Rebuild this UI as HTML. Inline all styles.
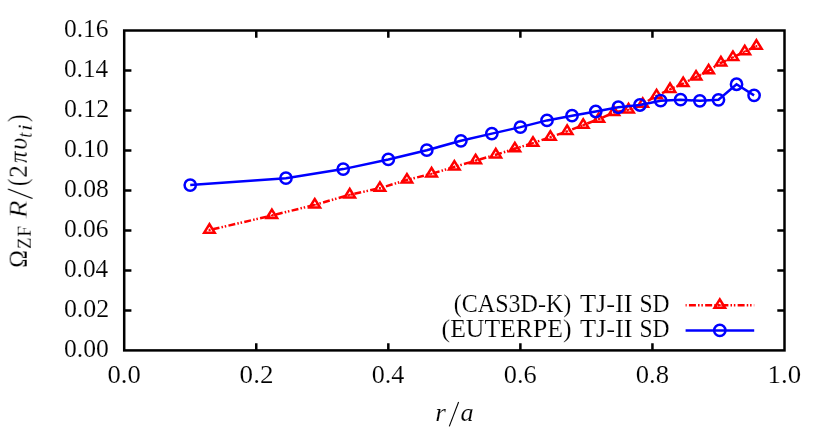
<!DOCTYPE html>
<html><head><meta charset="utf-8"><title>chart</title>
<style>html,body{margin:0;padding:0;background:#fff;}svg{display:block;will-change:transform;}.tx{filter:grayscale(1);}.tx text{stroke:#fff;stroke-width:0.15;}text{font-family:"Liberation Serif",serif;fill:#000;}</style>
</head><body>
<svg width="830" height="432" viewBox="0 0 830 432">
<rect x="0" y="0" width="830" height="432" fill="#ffffff"/>
<path d="M124.20,310.41h7.2M784.50,310.41h-7.2M124.20,270.42h7.2M784.50,270.42h-7.2M124.20,230.44h7.2M784.50,230.44h-7.2M124.20,190.45h7.2M784.50,190.45h-7.2M124.20,150.46h7.2M784.50,150.46h-7.2M124.20,110.47h7.2M784.50,110.47h-7.2M124.20,70.49h7.2M784.50,70.49h-7.2M256.26,350.40v-7.2M256.26,30.50v7.2M388.32,350.40v-7.2M388.32,30.50v7.2M520.38,350.40v-7.2M520.38,30.50v7.2M652.44,350.40v-7.2M652.44,30.50v7.2" stroke="#000" stroke-width="2.5" fill="none"/>
<rect x="124.20" y="30.50" width="660.30" height="319.90" fill="none" stroke="#000" stroke-width="2.5"/>
<g class="tx">
<text transform="translate(63.90,356.50) scale(1.0023,1.0000)" font-size="25.6">0.00</text>
<text transform="translate(63.89,316.51) scale(1.0141,1.0000)" font-size="25.6">0.02</text>
<text transform="translate(63.91,276.52) scale(0.9908,1.0000)" font-size="25.6">0.04</text>
<text transform="translate(63.90,236.54) scale(0.9977,1.0000)" font-size="25.6">0.06</text>
<text transform="translate(63.90,196.55) scale(1.0023,1.0000)" font-size="25.6">0.08</text>
<text transform="translate(63.90,156.56) scale(1.0023,1.0000)" font-size="25.6">0.10</text>
<text transform="translate(63.89,116.57) scale(1.0141,1.0000)" font-size="25.6">0.12</text>
<text transform="translate(63.91,76.59) scale(0.9908,1.0000)" font-size="25.6">0.14</text>
<text transform="translate(63.90,36.60) scale(0.9977,1.0000)" font-size="25.6">0.16</text>
<text transform="translate(107.56,382.60) scale(1.0397,1.0000)" font-size="25.6">0.0</text>
<text transform="translate(239.61,382.60) scale(1.0572,1.0000)" font-size="25.6">0.2</text>
<text transform="translate(371.70,382.60) scale(1.0228,1.0000)" font-size="25.6">0.4</text>
<text transform="translate(503.75,382.60) scale(1.0329,1.0000)" font-size="25.6">0.6</text>
<text transform="translate(635.80,382.60) scale(1.0397,1.0000)" font-size="25.6">0.8</text>
<text transform="translate(767.59,382.60) scale(1.0484,1.0000)" font-size="25.6">1.0</text>
<text transform="translate(453.77,311.50) scale(0.9404,1.0000)" font-size="25.6">(CAS3D-K)</text>
<text transform="translate(579.99,311.50) scale(1.0290,1.0000)" font-size="25.6">TJ-II</text>
<text transform="translate(639.54,311.50) scale(0.9189,1.0000)" font-size="25.6">SD</text>
<text transform="translate(441.60,336.60) scale(1.0041,1.0000)" font-size="25.6">(EUTERPE)</text>
<text transform="translate(579.99,336.60) scale(1.0290,1.0000)" font-size="25.6">TJ-II</text>
<text transform="translate(639.54,336.60) scale(0.9189,1.0000)" font-size="25.6">SD</text>
<text transform="translate(435.33,420.70) scale(1.0659,1.0000)" font-size="25.6" font-style="italic">r</text>
<text transform="translate(460.38,420.70) scale(1.0268,1.0000)" font-size="25.6" font-style="italic">a</text>
<path d="M449.3,426.4L458.6,402.0" stroke="#000" stroke-width="1.1" fill="none"/>
<g transform="translate(26.7,267) rotate(-90)">
<text transform="translate(-0.80,0.00) scale(0.9268,1.0000)" font-size="25.6">Ω</text>
<text transform="translate(18.07,4.40) scale(1.0319,1.0000)" font-size="18.3">Z</text>
<text transform="translate(30.37,4.40) scale(1.0659,1.0000)" font-size="18.3">F</text>
<text transform="translate(48.73,0.00) scale(1.1484,1.0000)" font-size="25.6" font-style="italic" style="stroke-width:0.45">R</text>
<text transform="translate(81.05,0.00) scale(0.8636,1.0600)" font-size="25.6">(</text>
<text transform="translate(89.22,0.00) scale(0.9806,1.0000)" font-size="25.6">2</text>
<text transform="translate(104.11,0.00) scale(0.9030,1.0000)" font-size="25.6" font-style="italic">π</text>
<text transform="translate(117.18,0.00) scale(1.0202,1.0000)" font-size="25.6" font-style="italic">υ</text>
<text transform="translate(129.28,4.60) scale(1.0213,1.1000)" font-size="18.3" font-style="italic">t</text>
<text transform="translate(136.07,4.60) scale(1.3333,1.0800)" font-size="18.3" font-style="italic">i</text>
<text transform="translate(145.01,0.00) scale(0.8636,1.0600)" font-size="25.6">)</text>
<path d="M68.5,5.8L78.0,-18.8" stroke="#000" stroke-width="1.1" fill="none"/>
</g>
</g>
<polyline points="209.44,230.05 271.85,215.50 314.81,204.85 349.74,194.80 379.93,188.20 406.92,179.90 431.55,173.80 454.35,166.90 475.67,160.60 495.77,154.80 514.84,148.70 533.02,143.10 550.42,137.10 567.14,131.30 583.25,125.10 598.82,119.10 613.89,112.50 628.51,109.80 642.72,104.15 656.55,95.75 670.03,89.30 683.18,83.50 696.04,77.00 708.61,70.70 720.91,62.80 732.97,57.35 744.79,51.60 756.39,46.05" fill="none" stroke="#ff0000" stroke-width="2.5" stroke-dasharray="6.97 2.14 1.495 1.845 1.495 2.29" stroke-dashoffset="12.95"/>
<path d="M685.6,305.2H754.2" fill="none" stroke="#ff0000" stroke-width="2.5" stroke-dasharray="6.97 2.14 1.495 1.845 1.495 2.29" stroke-dashoffset="12.9"/>
<path d="M209.44,224.23l-5.25,8.42h10.50zM271.85,209.68l-5.25,8.42h10.50zM314.81,199.03l-5.25,8.42h10.50zM349.74,188.98l-5.25,8.42h10.50zM379.93,182.38l-5.25,8.42h10.50zM406.92,174.08l-5.25,8.42h10.50zM431.55,167.98l-5.25,8.42h10.50zM454.35,161.08l-5.25,8.42h10.50zM475.67,154.78l-5.25,8.42h10.50zM495.77,148.98l-5.25,8.42h10.50zM514.84,142.88l-5.25,8.42h10.50zM533.02,137.28l-5.25,8.42h10.50zM550.42,131.28l-5.25,8.42h10.50zM567.14,125.48l-5.25,8.42h10.50zM583.25,119.28l-5.25,8.42h10.50zM598.82,113.28l-5.25,8.42h10.50zM613.89,106.68l-5.25,8.42h10.50zM628.51,103.98l-5.25,8.42h10.50zM642.72,98.33l-5.25,8.42h10.50zM656.55,89.93l-5.25,8.42h10.50zM670.03,83.48l-5.25,8.42h10.50zM683.18,77.68l-5.25,8.42h10.50zM696.04,71.18l-5.25,8.42h10.50zM708.61,64.88l-5.25,8.42h10.50zM720.91,56.98l-5.25,8.42h10.50zM732.97,51.53l-5.25,8.42h10.50zM744.79,45.78l-5.25,8.42h10.50zM756.39,40.23l-5.25,8.42h10.50zM719.80,299.38l-5.25,8.42h10.50z" fill="none" stroke="#ff0000" stroke-width="2.5" stroke-linejoin="miter"/>
<g fill="#ff0000"><circle cx="209.44" cy="230.05" r="1.1"/><circle cx="271.85" cy="215.50" r="1.1"/><circle cx="314.81" cy="204.85" r="1.1"/><circle cx="349.74" cy="194.80" r="1.1"/><circle cx="379.93" cy="188.20" r="1.1"/><circle cx="406.92" cy="179.90" r="1.1"/><circle cx="431.55" cy="173.80" r="1.1"/><circle cx="454.35" cy="166.90" r="1.1"/><circle cx="475.67" cy="160.60" r="1.1"/><circle cx="495.77" cy="154.80" r="1.1"/><circle cx="514.84" cy="148.70" r="1.1"/><circle cx="533.02" cy="143.10" r="1.1"/><circle cx="550.42" cy="137.10" r="1.1"/><circle cx="567.14" cy="131.30" r="1.1"/><circle cx="583.25" cy="125.10" r="1.1"/><circle cx="598.82" cy="119.10" r="1.1"/><circle cx="613.89" cy="112.50" r="1.1"/><circle cx="628.51" cy="109.80" r="1.1"/><circle cx="642.72" cy="104.15" r="1.1"/><circle cx="656.55" cy="95.75" r="1.1"/><circle cx="670.03" cy="89.30" r="1.1"/><circle cx="683.18" cy="83.50" r="1.1"/><circle cx="696.04" cy="77.00" r="1.1"/><circle cx="708.61" cy="70.70" r="1.1"/><circle cx="720.91" cy="62.80" r="1.1"/><circle cx="732.97" cy="57.35" r="1.1"/><circle cx="744.79" cy="51.60" r="1.1"/><circle cx="756.39" cy="46.05" r="1.1"/><circle cx="719.80" cy="305.20" r="1.1"/></g>
<polyline points="190.23,185.05 285.94,178.20 343.20,169.10 388.32,159.45 426.79,150.20 460.89,140.80 491.84,133.60 520.38,127.10 547.00,120.40 572.04,115.65 595.75,111.50 618.32,107.25 639.91,105.00 660.63,100.70 680.58,99.65 699.84,100.80 718.47,99.80 736.54,84.25 754.09,95.35" fill="none" stroke="#0000ff" stroke-width="2.5"/>
<path d="M685.6,330.4H754.2" fill="none" stroke="#0000ff" stroke-width="2.5"/>
<g fill="none" stroke="#0000ff" stroke-width="2.5">
<circle cx="190.23" cy="185.05" r="5.65"/>
<circle cx="285.94" cy="178.20" r="5.65"/>
<circle cx="343.20" cy="169.10" r="5.65"/>
<circle cx="388.32" cy="159.45" r="5.65"/>
<circle cx="426.79" cy="150.20" r="5.65"/>
<circle cx="460.89" cy="140.80" r="5.65"/>
<circle cx="491.84" cy="133.60" r="5.65"/>
<circle cx="520.38" cy="127.10" r="5.65"/>
<circle cx="547.00" cy="120.40" r="5.65"/>
<circle cx="572.04" cy="115.65" r="5.65"/>
<circle cx="595.75" cy="111.50" r="5.65"/>
<circle cx="618.32" cy="107.25" r="5.65"/>
<circle cx="639.91" cy="105.00" r="5.65"/>
<circle cx="660.63" cy="100.70" r="5.65"/>
<circle cx="680.58" cy="99.65" r="5.65"/>
<circle cx="699.84" cy="100.80" r="5.65"/>
<circle cx="718.47" cy="99.80" r="5.65"/>
<circle cx="736.54" cy="84.25" r="5.65"/>
<circle cx="754.09" cy="95.35" r="5.65"/>
<circle cx="719.80" cy="330.40" r="5.65"/>
</g>
</svg></body></html>
